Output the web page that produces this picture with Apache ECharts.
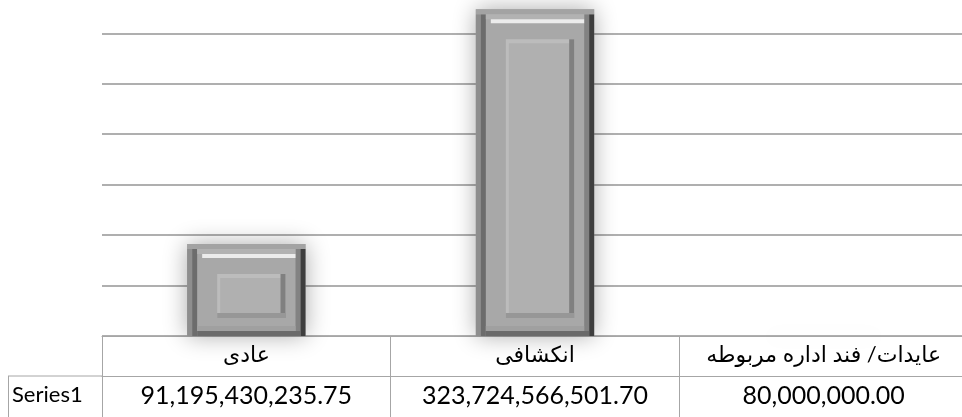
<!DOCTYPE html>
<html><head><meta charset="utf-8">
<script src="https://cdn.jsdelivr.net/npm/echarts@6/dist/echarts.min.js"></script>
<style>html,body{margin:0;padding:0;background:#fff;overflow:hidden}#c{width:968px;height:417px}</style>
</head><body><div id="c"></div>
<script>
const categories = ['عادی', 'انکشافی', 'عایدات/ فند اداره مربوطه'];
const seriesName = 'Series1';
const values = [91195430235.75, 323724566501.70, 80000000.00];
const yMax = 333e9, yStep = 50e9;

const FONT = "Lato, 'DejaVu Sans', sans-serif";
const fmt = v => v.toLocaleString('en-US', {minimumFractionDigits: 2, maximumFractionDigits: 2});
const lineCol = '#a6a6a6';

function renderBar(params, api) {
  const top = api.coord([api.value(0), api.value(1)]);
  const base = api.coord([api.value(0), 0]);
  const w = api.size([1, 0])[0] * 0.41;
  const L = top[0] - w / 2, R = L + w, T = top[1], B = base[1];
  const h = B - T;
  const kids = [];
  const r = (x1, y1, x2, y2, fill, extra) => {
    if (y2 - y1 <= 0 || x2 - x1 <= 0) return;
    kids.push(Object.assign({type: 'rect', shape: {x: x1, y: y1, width: x2 - x1, height: y2 - y1}, style: {fill}}, extra || {}));
  };
  r(L, T, R, B + (h < 1 ? 0.5 : 0), '#a8a8a8', {style: {fill: '#a8a8a8', shadowBlur: 22, shadowColor: 'rgba(0,0,0,0.33)'}});
  if (h > 40) {
    r(L, T + 5, L + 5, B, '#8e8e8e');
    r(L + 5, T + 5, L + 10, B, '#6c6c6c');
    r(R - 10, T + 5, R - 5, B, '#828282');
    r(R - 5, T + 5, R, B, '#3e3e3e');
    r(L, T, R, T + 5, '#a3a3a3');
    r(L + 10, T + 5, R - 10, T + 10, '#b2b2b2');
    r(L + 15, T + 10, R - 10, T + 14, '#ececec');
    r(L + 10, B - 10, R - 10, B - 5, '#a0a0a0');
    r(L + 10, B - 5, R - 5, B, '#6a6a6a');
    r(L + 30, T + 30, R - 20, B - 18, '#bcbcbc');
    r(L + 33, T + 34, R - 20, B - 18, '#b0b0b0');
    r(R - 25, T + 30, R - 20, B - 18, '#808080');
    r(L + 30, B - 23, R - 20, B - 18, '#979797');
  }
  return {type: 'group', children: kids};
}

const chart = echarts.init(document.getElementById('c'));
chart.setOption({
  animation: false,
  grid: {left: 102, top: 0, right: 0, height: 336, containLabel: false},
  xAxis: [{
    type: 'category', data: categories, position: 'bottom',
    axisLine: {show: true, lineStyle: {color: lineCol, width: 1}},
    axisTick: {show: true, interval: 0, length: 82, alignWithLabel: false, lineStyle: {color: lineCol}},
    axisLabel: {interval: 0, margin: 8, fontFamily: FONT, fontSize: 22, color: '#000'}
  }, {
    type: 'category', data: categories, position: 'bottom', offset: 40,
    axisLine: {show: true, lineStyle: {color: lineCol, width: 1}},
    axisTick: {show: false},
    axisLabel: {interval: 0, margin: 7, fontFamily: FONT, fontSize: 25, color: '#000',
      formatter: (v, i) => fmt(values[i])}
  }],
  yAxis: {
    type: 'value', min: 0, max: yMax, interval: yStep,
    axisLabel: {show: false}, axisLine: {show: false}, axisTick: {show: false},
    splitLine: {showMaxLine: false, lineStyle: {color: '#959595', width: 1.5}}
  },
  series: [{
    name: seriesName, type: 'custom', renderItem: renderBar,
    encode: {x: 0, y: 1},
    data: values.map((v, i) => [i, v])
  }],
  graphic: [
    {type: 'line', shape: {x1: 8, y1: 376, x2: 102, y2: 376}, style: {stroke: lineCol, lineWidth: 1}},
    {type: 'line', shape: {x1: 8.5, y1: 376, x2: 8.5, y2: 417}, style: {stroke: lineCol, lineWidth: 1}},
    {type: 'text', left: 12, top: 384, style: {text: seriesName, font: '22px ' + FONT, fill: '#000'}}
  ]
});
</script></body></html>
